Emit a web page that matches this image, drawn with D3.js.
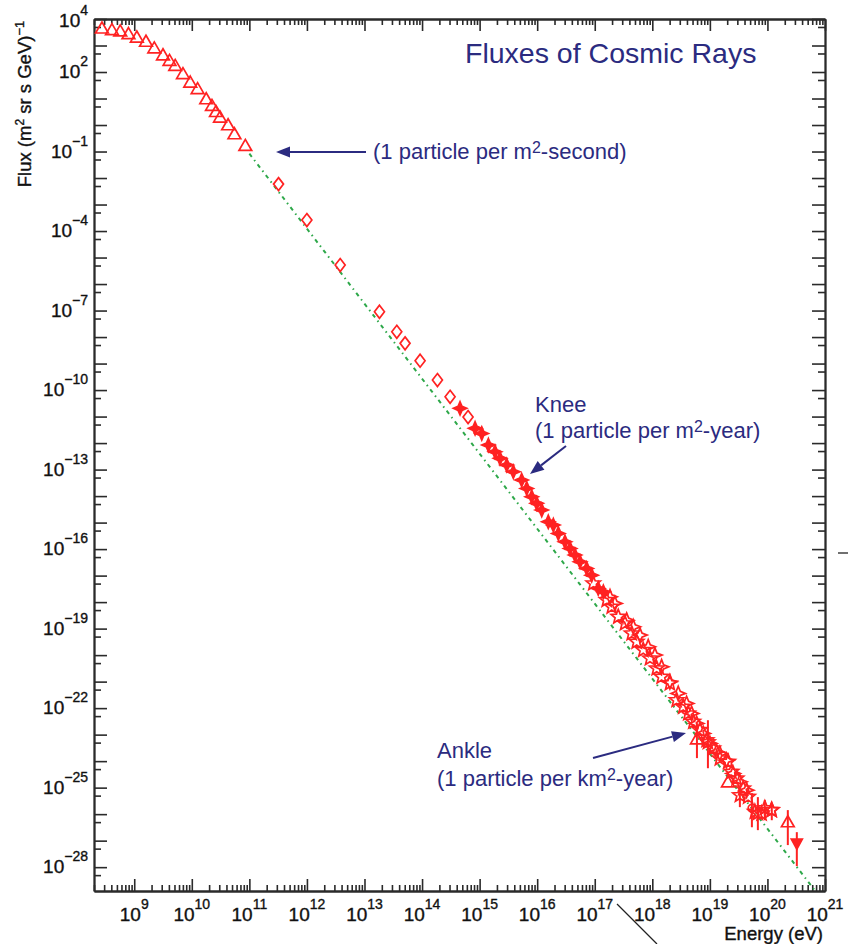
<!DOCTYPE html>
<html><head><meta charset="utf-8">
<script src="https://cdn.jsdelivr.net/npm/d3@7/dist/d3.min.js"></script>
<style>body{margin:0;background:#fff}svg{display:block}text{font-family:"Liberation Sans",Arial,Helvetica,sans-serif}</style>
</head><body><svg id="c" width="848" height="944"></svg>
<script>
// ---------- data ----------
const xLabelExps = [9,10,11,12,13,14,15,16,17,18,19,20,21];
const yLabelExps = [4,2,-1,-4,-7,-10,-13,-16,-19,-22,-25,-28];

// low-energy spectrum (open triangles)
const triE = [2.75e8,4.10e8,5.71e8,7.94e8,1.11e9,1.60e9,2.23e9,3.16e9,4.10e9,5.15e9,7.02e9,9.40e9,1.26e10,1.78e10,2.24e10,2.63e10,3.09e10,4.27e10,5.50e10,8.51e10];
const triF = [4070,3550,3160,2510,1860,1290,724,398,245,158,77.6,37.2,20.9,8.71,4.90,2.88,1.78,0.912,0.417,0.151];

// direct measurements (open diamonds)
const diaE = [3.21e11,9.98e11,3.78e12,1.82e13,3.64e13,5.07e13,9.25e13,1.85e14,3.07e14,6.30e14];
const diaF = [5.89e-3,2.60e-4,5.21e-6,9.02e-8,1.58e-8,5.78e-9,1.28e-9,2.38e-10,5.58e-11,9.57e-12];

// knee region (filled stars)
const kneeE = [4.57e14,8.34e14,1.09e15,1.42e15,1.85e15,2.26e15,2.96e15,3.85e15,5.38e15,6.58e15,8.04e15,9.82e15,1.20e16,1.56e16,1.91e16,2.33e16,3.04e16,3.72e16,4.54e16,5.55e16,7.24e16,8.85e16,1.15e17,1.41e17];
const kneeF = [2.04e-11,3.59e-12,2.32e-12,8.41e-13,4.70e-13,2.65e-13,1.48e-13,8.26e-14,4.02e-14,1.95e-14,9.42e-15,5.31e-15,2.96e-15,1.07e-15,8.05e-16,3.91e-16,1.88e-16,1.06e-16,5.94e-17,3.32e-17,1.87e-17,1.04e-17,3.29e-18,2.45e-18];

// air-shower data (open stars)
const starE = [9.42e16,1.61e17,1.97e17,2.56e17,3.35e17,4.38e17,5.35e17,6.95e17,9.10e17,1.19e18,1.45e18,2.02e18,2.64e18,3.44e18,4.21e18,5.14e18,6.71e18,8.77e18,1.14e19,1.49e19,2.08e19,2.38e19,2.91e19,3.79e19,4.62e19,6.05e19,7.91e19,1.18e20];
const starF = [5.08e-18,1.19e-18,6.65e-19,2.79e-19,1.57e-19,6.59e-20,3.18e-20,1.55e-20,7.50e-21,3.15e-21,1.52e-21,8.55e-22,2.00e-22,1.12e-22,6.31e-23,3.04e-23,1.48e-23,6.19e-24,3.01e-24,1.26e-24,9.42e-25,3.94e-25,2.22e-25,9.33e-26,4.50e-26,1.22e-26,1.06e-26,1.42e-26];

// second air-shower set (open four-point stars)
const sqE = [1.84e17,2.24e17,3.58e17,4.67e17,6.10e17,8.49e17,1.11e18,1.45e18,2.02e18,2.82e18,3.94e18,4.82e18,5.89e18,7.66e18,1.0e19,1.31e19,1.49e19,1.95e19,2.54e19,3.32e19,4.35e19];
const sqF = [1.58e-18,8.93e-19,2.09e-19,1.17e-19,5.69e-20,2.06e-20,1.0e-20,3.61e-21,9.82e-22,3.59e-22,1.50e-22,6.31e-23,2.65e-23,1.11e-23,4.66e-24,2.24e-24,1.95e-24,1.09e-24,3.44e-25,1.66e-25,8.05e-26];

// highest energies with error bars
const errE  = [5.96e18,9.25e18,2.06e19,3.32e19,5.37e19,6.82e19,9.0e19,1.19e20,2.26e20,3.24e20];
const errF  = [6.2e-24,5.2e-24,1.48e-25,5.2e-26,1.68e-26,1.09e-26,1.68e-26,1.42e-26,4.6e-27,8.05e-28];
const errLo = [1.30e-24,5.4e-25,null,1.84e-26,3.2e-27,2.49e-27,5.9e-27,5.9e-27,6.8e-28,1.09e-28];
const errHi = [2.72e-23,3.5e-23,null,1.04e-25,6.2e-26,4.39e-26,3.4e-26,2.6e-26,1.42e-26,2.09e-27];
const errSym = ["tri","star","tri","star","circle","star","star","star","tri","down"];

// E^-2.8 reference power law (green dash-dot)
const fitE = [1e11, 7e20];
const fitF = [8.3e-2, 1.15e-29];

// ---------- drawing ----------
const svg = d3.select("#c");
const L=94, R=825, T=19, B=891;
const x = d3.scaleLog().domain([2e8,1e21]).range([L,R]);
const y = d3.scaleLog().domain([1e4,1.26e-29]).range([T,B]);
const RED = "#ff2222", NAVY = "#2b2b80", AX = "#2a2a2a", INK = "#111";

svg.append("rect").attr("width",848).attr("height",944).attr("fill","#fff");
svg.append("defs").append("clipPath").attr("id","clip")
  .append("rect").attr("x",L).attr("y",T).attr("width",R-L).attr("height",B-T);

// tick values
const xMajor = d3.range(9,22).map(k=>Math.pow(10,k));
const xMinor = [];
for (let k=8;k<=20;k++) for (let m=2;m<=9;m++){const v=m*Math.pow(10,k); if(v>=2e8&&v<=1e21) xMinor.push(v);}
const yMajor = d3.range(-28,5).map(k=>Math.pow(10,k));
const yMinor = d3.range(-29,4).map(k=>5*Math.pow(10,k)).filter(v=>v>=1.26e-29&&v<=1e4);

function styleAxis(g){
  g.selectAll("path").attr("stroke",AX).attr("stroke-width",1.8);
  g.selectAll("line").attr("stroke",AX).attr("stroke-width",1.6);
  g.selectAll("text").remove();
}
const axes = svg.append("g");
axes.append("g").attr("transform",`translate(0,${B})`).call(d3.axisBottom(x).tickValues(xMajor).tickSize(-12).tickSizeOuter(0)).call(styleAxis);
axes.append("g").attr("transform",`translate(0,${B})`).call(d3.axisBottom(x).tickValues(xMinor).tickSize(-6).tickSizeOuter(0)).call(styleAxis);
axes.append("g").attr("transform",`translate(0,${T})`).call(d3.axisTop(x).tickValues(xMajor).tickSize(-12).tickSizeOuter(0)).call(styleAxis);
axes.append("g").attr("transform",`translate(0,${T})`).call(d3.axisTop(x).tickValues(xMinor).tickSize(-6).tickSizeOuter(0)).call(styleAxis);
axes.append("g").attr("transform",`translate(${L},0)`).call(d3.axisLeft(y).tickValues(yMajor).tickSize(-13).tickSizeOuter(0)).call(styleAxis);
axes.append("g").attr("transform",`translate(${L},0)`).call(d3.axisLeft(y).tickValues(yMinor).tickSize(-7).tickSizeOuter(0)).call(styleAxis);
axes.append("g").attr("transform",`translate(${R},0)`).call(d3.axisRight(y).tickValues(yMajor).tickSize(-13).tickSizeOuter(0)).call(styleAxis);
axes.append("g").attr("transform",`translate(${R},0)`).call(d3.axisRight(y).tickValues(yMinor).tickSize(-7).tickSizeOuter(0)).call(styleAxis);

// tick labels
const fmtExp = k => (k<0 ? "\u2212"+(-k) : ""+k);
function ink(t){ return t.attr("fill",INK).attr("stroke",INK).attr("stroke-width",0.35); }
xLabelExps.forEach(k=>{
  const t = ink(svg.append("text").attr("x",x(Math.pow(10,k))).attr("y",921)
    .attr("text-anchor","middle").attr("font-size",19));
  t.append("tspan").text("10");
  t.append("tspan").attr("dy",-12).attr("font-size",14).text(fmtExp(k));
});
yLabelExps.forEach(k=>{
  const yy = Math.max(y(Math.pow(10,k))+6, 27);
  const t = ink(svg.append("text").attr("x",88).attr("y",yy)
    .attr("text-anchor","end").attr("font-size",19));
  t.append("tspan").text("10");
  t.append("tspan").attr("dy",-12).attr("font-size",14).text(fmtExp(k));
});

// axis titles
const yt = ink(svg.append("text").attr("transform","translate(31,104) rotate(-90)")
  .attr("text-anchor","middle").attr("font-size",18.5));
yt.append("tspan").text("Flux (m");
yt.append("tspan").attr("dy",-7).attr("font-size",12).text("2");
yt.append("tspan").attr("dy",7).text(" sr s GeV)");
yt.append("tspan").attr("dy",-7).attr("font-size",13).text("\u22121");
ink(svg.append("text").attr("x",823).attr("y",940).attr("text-anchor","end")
  .attr("font-size",18.5)).text("Energy (eV)");

// title
svg.append("text").attr("x",465).attr("y",63).attr("font-size",28.5).attr("fill",NAVY).text("Fluxes of Cosmic Rays");

// ---------- data layer ----------
const plot = svg.append("g").attr("clip-path","url(#clip)");

// power-law reference line
plot.append("path")
  .datum(fitE.map((e,i)=>[e,fitF[i]]))
  .attr("d", d3.line().x(d=>x(d[0])).y(d=>y(d[1])))
  .attr("fill","none").attr("stroke","#2ea84a").attr("stroke-width",2)
  .attr("stroke-dasharray","4,4,1.5,4");

function starPath(n, ro, ri){
  const p=[];
  for(let i=0;i<2*n;i++){const r=i%2?ri:ro; const a=Math.PI*i/n - Math.PI/2; p.push([r*Math.cos(a), r*Math.sin(a)]);}
  return "M"+p.map(q=>q[0].toFixed(2)+","+q[1].toFixed(2)).join("L")+"Z";
}
const shapes = {
  tri: d3.symbol().type(d3.symbolTriangle).size(70)(),
  down: "M-5.5,-4L5.5,-4L0,6Z",
  diamond: "M0,-6.5L5,0L0,6.5L-5,0Z",
  star: starPath(5,7.5,3.3),
  star4: starPath(4,7.2,2.9),
  kstar: starPath(4,6.6,2.8),
  circle: d3.symbol().type(d3.symbolCircle).size(44)()
};
function markers(E,F,shape,filled,cls){
  plot.append("g").selectAll("path."+cls).data(E.map((e,i)=>[e,F[i]])).join("path")
    .attr("class",cls)
    .attr("transform",d=>`translate(${x(d[0])},${y(d[1])})`)
    .attr("d",shapes[shape])
    .attr("fill",filled?RED:"none").attr("stroke",RED).attr("stroke-width",1.7);
}
markers(triE,triF,"tri",false,"tri");
markers(diaE,diaF,"diamond",false,"dia");
markers(sqE,sqF,"star4",false,"sq");
markers(starE,starF,"star",false,"st");
markers(kneeE,kneeF,"kstar",true,"kn");

// error bars
const eg = plot.append("g");
errE.forEach((e,i)=>{
  if(errLo[i]!=null){
    eg.append("line").attr("x1",x(e)).attr("x2",x(e)).attr("y1",y(errHi[i])).attr("y2",y(errLo[i]))
      .attr("stroke",RED).attr("stroke-width",2);
  }
});
errE.forEach((e,i)=>{
  const s = errSym[i];
  eg.append("path").attr("transform",`translate(${x(e)},${y(errF[i])})`)
    .attr("d",shapes[s]).attr("fill",s==="down"?RED:"none")
    .attr("stroke",RED).attr("stroke-width",1.7);
});

// ---------- annotations ----------
function arrow(x1,y1,x2,y2){
  const g = svg.append("g");
  const a = Math.atan2(y2-y1,x2-x1), len=14, hw=5.5;
  const bx = x2-len*Math.cos(a), by = y2-len*Math.sin(a);
  g.append("line").attr("x1",x1).attr("y1",y1).attr("x2",bx).attr("y2",by)
    .attr("stroke",NAVY).attr("stroke-width",2);
  g.append("path").attr("d",`M${x2},${y2}L${bx+hw*Math.sin(a)},${by-hw*Math.cos(a)}L${bx-hw*Math.sin(a)},${by+hw*Math.cos(a)}Z`)
    .attr("fill",NAVY);
}
function note(xp,yp,pre,sup,post){
  const t = svg.append("text").attr("x",xp).attr("y",yp).attr("font-size",22).attr("fill",NAVY);
  t.append("tspan").text(pre);
  if(sup){ t.append("tspan").attr("dy",-6).attr("font-size",16).text(sup);
           t.append("tspan").attr("dy",6).text(post); }
}
arrow(366,152,276,152);
note(373,159,"(1 particle per m","2","-second)");

note(535,412,"Knee");
note(535,438,"(1 particle per m","2","-year)");
arrow(566,446,530,474);

note(437,758,"Ankle");
note(437,786,"(1 particle per km","2","-year)");
arrow(593,758,686,733);

// scan artefacts present in the reference image
svg.append("line").attr("x1",617).attr("y1",904).attr("x2",657).attr("y2",944).attr("stroke","#222").attr("stroke-width",1.3);
svg.append("line").attr("x1",838).attr("y1",553).attr("x2",848).attr("y2",553).attr("stroke","#222").attr("stroke-width",1.3);
</script></body></html>
